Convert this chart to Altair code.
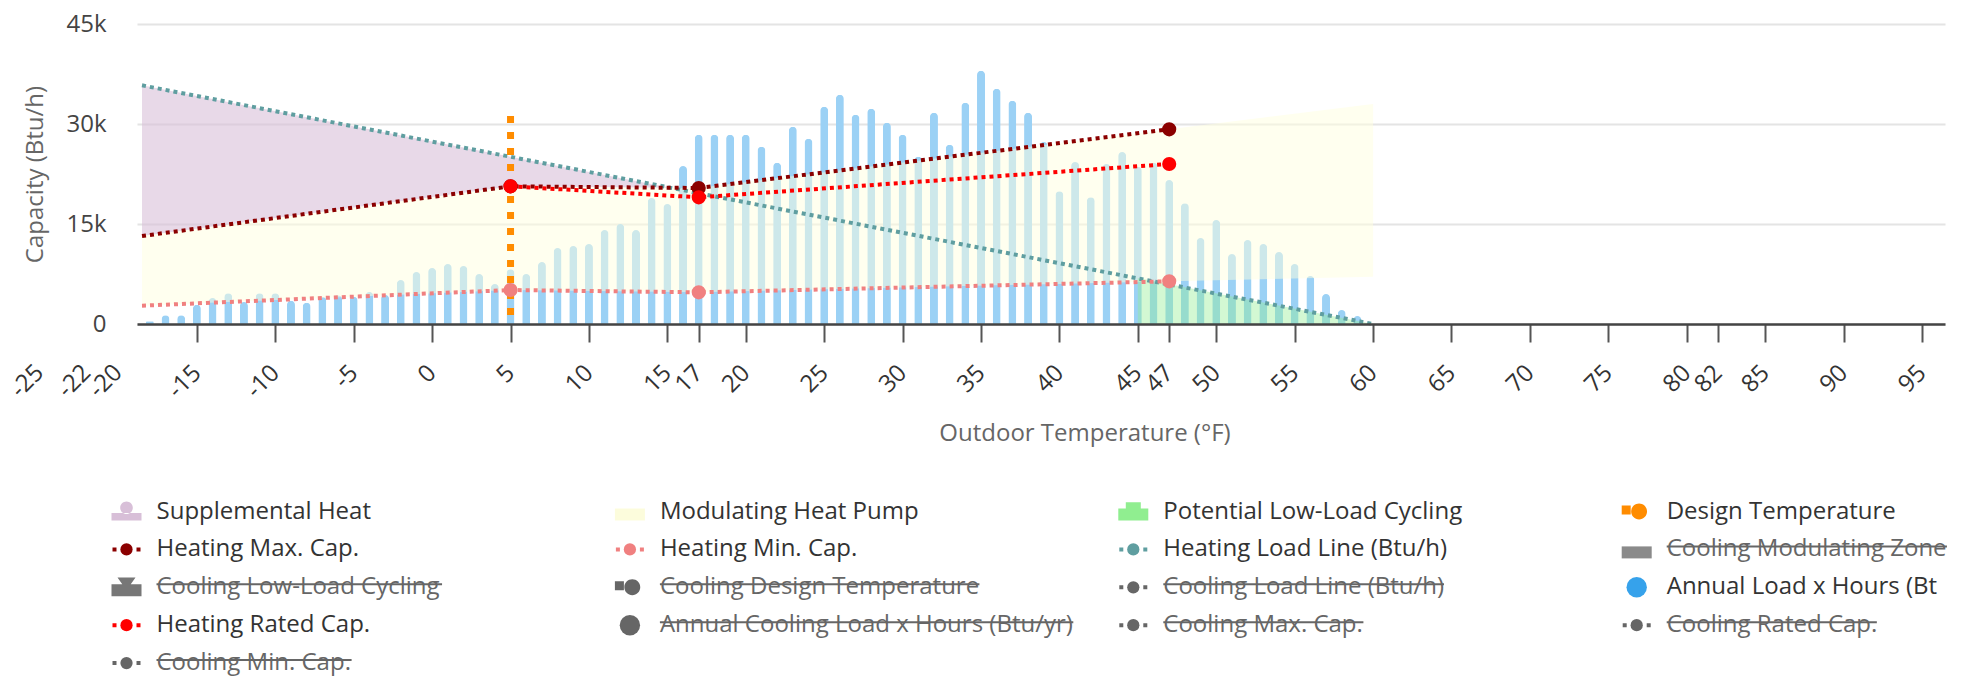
import altair as alt
import pandas as pd

# ---------------- data ----------------
bar_temps = list(range(-18, 60))
bar_values = [400, 1300, 1300, 2900, 3900, 4600, 3300, 4600, 4600, 3500,
              3200, 4100, 4300, 4100, 4800, 4400, 6600, 7800,
              8400, 9000, 8700, 7500, 6000, 8200, 7500, 9300, 11400, 11700,
              12000, 14100, 15000, 14100, 18900, 18000, 23700, 28400, 28400, 28400,
              28400, 26600, 24200, 29600, 27800, 32600, 34400, 31400, 32300, 30200,
              28400, 25100, 31700, 26900, 33200, 38000, 35300, 33500, 31700, 27300,
              19900, 24300, 19000, 24000, 25800, 23600, 24200, 21600, 18100, 12900,
              15600, 10500, 12600, 12000, 10800, 9000, 7200, 4500, 2100, 1200]

design_temp = [5]
design_top = [31200]
design_bottom = [0]

load_temps = [-18.5, 60]
load_values = [35800, 0]

max_temps = [-18.5, 5, 17, 47]
max_values = [13200, 20650, 20400, 29200]
rated_temps = [5, 17, 47]
rated_values = [20650, 19000, 24000]
min_temps = [-18.5, 5, 17, 47]
min_values = [2750, 5100, 4750, 6400]
marker_temps = [5, 17, 47]

mod_temps = [-18.5, 5, 17, 47, 60]
mod_low = [2750, 5100, 4750, 6400, 7100]
mod_high = [13200, 20650, 20400, 29200, 33000]

sup_temps = [-18.5, 5, 15.2]
sup_low = [13200, 20650, 20450]
sup_high = [35800, 25100, 20450]

cyc_temps = [45, 60]
cyc_low = [0, 0]
cyc_high = [6900, 0]

x_ticks = [-15, -10, -5, 0, 5, 10, 15, 17, 20, 25, 30, 35, 40, 45, 47,
           50, 55, 60, 65, 70, 75, 80, 82, 85, 90, 95]
x_ticks_outside = [-25, -22, -20]
y_ticks = [0, 15000, 30000, 45000]

legend_labels = ["Supplemental Heat", "Modulating Heat Pump", "Potential Low-Load Cycling",
                 "Design Temperature", "Heating Max. Cap.", "Heating Min. Cap.",
                 "Heating Load Line (Btu/h)", "Cooling Modulating Zone",
                 "Cooling Low-Load Cycling", "Cooling Design Temperature",
                 "Cooling Load Line (Btu/h)", "Annual Load x Hours (Btu/yr)",
                 "Heating Rated Cap.", "Annual Cooling Load x Hours (Btu/yr)",
                 "Cooling Max. Cap.", "Cooling Rated Cap.", "Cooling Min. Cap."]
legend_symbols = ["areaCircle", "box", "areaSquare", "lineBox", "linePoint", "linePoint",
                  "linePoint", "box", "areaTriangle", "lineBox", "linePoint", "bigCircle",
                  "linePoint", "bigCircle", "linePoint", "linePoint", "linePoint"]
legend_colors = ["#d8bfd8", "#fcfcdc", "#90ee90", "#ff8c00", "#8b0000", "#f08080",
                 "#5f9ea0", "#8a8a8a", "#777777", "#666666", "#666666", "#36a2eb",
                 "#ff0000", "#666666", "#666666", "#666666", "#666666"]
legend_hidden = [False, False, False, False, False, False, False, True, True, True, True,
                 False, False, True, True, True, True]

# ---------------- layout / style ----------------
FS = 24
PLOT_W, PLOT_H = 1808, 300
LW, LH = 1808, 230
LEG_X0, LEG_DX = 19.5, 503.4
LEG_Y0, LEG_DY = 65.5, 37.9
LIMIT4 = 290
LABEL_PAD = 27

# approximate Open Sans advance widths (em) used to size the strike-through rules
ADV = {" ": .26, "(": .275, ")": .275, ".": .266, "/": .367, "-": .322, "A": .633,
       "B": .648, "C": .631, "D": .729, "H": .742, "L": .531, "M": .903, "T": .539,
       "Z": .56, "a": .556, "b": .613, "c": .476, "d": .613, "e": .561, "g": .548,
       "h": .614, "i": .253, "l": .253, "m": .93, "n": .614, "o": .604, "p": .613,
       "r": .408, "s": .477, "t": .353, "u": .614, "w": .81, "x": .52, "y": .525, "z": .48}

def text_width(s):
    return sum(ADV.get(ch, .58) for ch in s) * FS

x_scale = alt.Scale(domain=[-18.5, 96.15], nice=False, zero=False)
y_scale = alt.Scale(domain=[0, 45000], nice=False)

x_axis = alt.Axis(
    values=x_ticks, labelExpr="datum.value + ''", labelAngle=-45, labelAlign="right",
    labelBaseline="middle", labelFontSize=FS, labelColor="#333", labelOverlap=False,
    labelFlush=False, labelPadding=LABEL_PAD, tickSize=18, tickColor="#555", tickWidth=2,
    domainColor="#444", domainWidth=2.5, grid=False,
    title="Outdoor Temperature (°F)", titleFontSize=FS, titleColor="#666",
    titleFontWeight="normal", titleX=947.5, titleY=109.5, titleBaseline="middle",
    titleAlign="center", zindex=1)
y_axis = alt.Axis(
    values=y_ticks, labelExpr="datum.value == 0 ? '0' : (datum.value / 1000) + 'k'",
    labelFontSize=FS, labelColor="#444", labelPadding=31, ticks=False, tickSize=0,
    domain=False, grid=True, gridColor="#e4e4e4", gridWidth=2,
    title="Capacity (Btu/h)", titleFontSize=FS, titleColor="#666",
    titleFontWeight="normal", titlePadding=18)

X = alt.X("T:Q", scale=x_scale, axis=x_axis)
Y = alt.Y("V:Q", scale=y_scale, axis=y_axis)

def df(t, v, v2=None):
    d = {"T": t, "V": v}
    if v2 is not None:
        d["V2"] = v2
    return pd.DataFrame(d)

bars = alt.Chart(df(bar_temps, bar_values)).mark_bar(
    size=8, color="#9bd1f5", cornerRadiusTopLeft=4, cornerRadiusTopRight=4
).encode(x=X, y=Y)

mod_area = alt.Chart(df(mod_temps, mod_low, mod_high)).mark_area(
    color="#ffffe0", opacity=0.5).encode(x=X, y=Y, y2="V2:Q")
sup_area = alt.Chart(df(sup_temps, sup_low, sup_high)).mark_area(
    color="#d8bfd8", opacity=0.6).encode(x=X, y=Y, y2="V2:Q")
cyc_area = alt.Chart(df(cyc_temps, cyc_low, cyc_high)).mark_area(
    color="#90ee90", opacity=0.4).encode(x=X, y=Y, y2="V2:Q")

def dotted(t, v, color):
    return alt.Chart(df(t, v)).mark_line(
        color=color, strokeWidth=4, strokeDash=[4, 4]).encode(x=X, y=Y)

load_line = dotted(load_temps, load_values, "#5f9ea0")
# drawn from the top down so the dash pattern starts at the top end
design = alt.Chart(df(design_temp, design_top, design_bottom)).mark_rule(
    color="#ff8c00", strokeWidth=7, strokeDash=[7, 9]).encode(x=X, y=Y, y2="V2:Q")
min_line = dotted(min_temps, min_values, "#f08080")
max_line = dotted(max_temps, max_values, "#8b0000")
rated_line = dotted(rated_temps, rated_values, "#ff0000")

def markers(vals, color):
    return alt.Chart(df(marker_temps, vals)).mark_circle(
        size=200, color=color, opacity=1).encode(x=X, y=Y)

min_pts = markers(min_values[1:], "#f08080")
max_pts = markers(max_values[1:], "#8b0000")
rated_pts = markers(rated_values, "#ff0000")

# tick labels that fall left of the plotted range (drawn without tick marks)
outside_labels = alt.Chart(pd.DataFrame({"T": x_ticks_outside})).transform_calculate(
    lab="datum.T + ''"
).mark_text(angle=315, align="right", baseline="middle", fontSize=FS, color="#333").encode(
    x=X, y=alt.value(PLOT_H + 18 + LABEL_PAD), text="lab:N")

main = alt.layer(bars, mod_area, sup_area, cyc_area, load_line, design, min_line,
                 max_line, rated_line, min_pts, max_pts, rated_pts, outside_labels
                 ).properties(width=PLOT_W, height=PLOT_H)

# ---------------- custom legend ----------------
rows = []
for i, (lab, sym, colr, hid) in enumerate(zip(legend_labels, legend_symbols,
                                              legend_colors, legend_hidden)):
    c, r = i % 4, i // 4
    tx = LEG_X0 + c * LEG_DX
    ty = LEG_Y0 + r * LEG_DY
    end = tx + text_width(lab)
    if c == 3:
        end = min(end, tx + LIMIT4)
    rows.append(dict(label=lab, sym=sym, color=colr, hidden=hid, col=c,
                     tx=tx, ty=ty, sx=tx - 30, sx0=tx - 44, sx1=tx - 16,
                     sy=ty - 3, ex=end, tcolor="#666" if hid else "#333"))
leg = pd.DataFrame(rows)

LX = lambda f: alt.X(f, type="quantitative", scale=alt.Scale(domain=[0, LW], nice=False, zero=False), axis=None)
LY = lambda f: alt.Y(f, type="quantitative", scale=alt.Scale(domain=[0, LH], nice=False, zero=False, reverse=True), axis=None)
NOCOL = lambda: alt.Color("color:N", scale=None)

shape_kinds = ["areaCircle", "box", "areaSquare", "areaTriangle", "lineBox"]
shape_paths = [
    "M-1,0.1L1,0.1L1,0.6L-1,0.6Z M-0.42,-0.25A0.42,0.42 0 1,0 0.42,-0.25A0.42,0.42 0 1,0 -0.42,-0.25Z",
    "M-1,-0.2L1,-0.2L1,0.6L-1,0.6Z",
    "M-1,-0.2L1,-0.2L1,0.6L-1,0.6Z M-0.5,-0.62L0.5,-0.62L0.5,0L-0.5,0Z",
    "M-1,-0.2L1,-0.2L1,0.6L-1,0.6Z M-0.6,-0.65L0.6,-0.65L0,0.2Z",
    "M-1,-0.4L-0.4,-0.4L-0.4,0.2L-1,0.2Z M-0.37,0A0.53,0.53 0 1,0 0.69,0A0.53,0.53 0 1,0 -0.37,0Z",
]
base = alt.Chart(leg)
sym_shapes = base.transform_filter(
    alt.FieldOneOfPredicate(field="sym", oneOf=shape_kinds)
).mark_point(filled=True, size=900, opacity=1, strokeWidth=0).encode(
    x=LX("sx"), y=LY("ty"), color=NOCOL(),
    shape=alt.Shape("sym:N", scale=alt.Scale(domain=shape_kinds, range=shape_paths), legend=None))
lp = base.transform_filter(alt.datum.sym == "linePoint")
sym_lines = lp.mark_rule(strokeWidth=4, strokeDash=[4, 20]).encode(
    x=LX("sx0"), x2="sx1:Q", y=LY("ty"), color=NOCOL())
sym_dots = lp.mark_circle(size=150, opacity=1).encode(x=LX("sx"), y=LY("ty"), color=NOCOL())
sym_big = base.transform_filter(alt.datum.sym == "bigCircle").mark_circle(
    size=415, opacity=1).encode(x=LX("sx"), y=LY("ty"), color=NOCOL())
txt_main = base.transform_filter(alt.datum.col < 3).mark_text(
    align="left", baseline="middle", fontSize=FS).encode(
    x=LX("tx"), y=LY("ty"), text="label:N", color=alt.Color("tcolor:N", scale=None))
txt_last = base.transform_filter(alt.datum.col == 3).mark_text(
    align="left", baseline="middle", fontSize=FS, limit=LIMIT4, ellipsis=" ").encode(
    x=LX("tx"), y=LY("ty"), text="label:N", color=alt.Color("tcolor:N", scale=None))
strikes = base.transform_filter(alt.datum.hidden == True).mark_rule(
    strokeWidth=2, color="#666").encode(x=LX("tx"), x2="ex:Q", y=LY("sy"))

legend = alt.layer(sym_shapes, sym_lines, sym_dots, sym_big, txt_main, txt_last, strikes
                   ).properties(width=LW, height=LH)

chart = alt.vconcat(main, legend, spacing=0).properties(
    padding={"left": -2, "top": 4, "right": 0, "bottom": 0}
).configure(font="Open Sans").configure_view(stroke=None)

chart.save("out.html", embed_options={"renderer": "svg", "actions": False})
